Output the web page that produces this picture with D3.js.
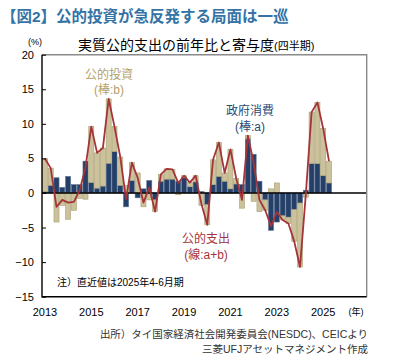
<!DOCTYPE html>
<html><head><meta charset="utf-8">
<script src="https://cdn.jsdelivr.net/npm/d3@7"></script>
<style>
html,body{margin:0;padding:0;background:#fff;}
svg{display:block;font-family:"Liberation Sans","Noto Sans CJK JP",sans-serif;}
</style></head>
<body>
<svg id="c" width="400" height="355"></svg>
<script>
const quarters = ["2013Q1","2013Q2","2013Q3","2013Q4","2014Q1","2014Q2","2014Q3","2014Q4",
"2015Q1","2015Q2","2015Q3","2015Q4","2016Q1","2016Q2","2016Q3","2016Q4",
"2017Q1","2017Q2","2017Q3","2017Q4","2018Q1","2018Q2","2018Q3","2018Q4",
"2019Q1","2019Q2","2019Q3","2019Q4","2020Q1","2020Q2","2020Q3","2020Q4",
"2021Q1","2021Q2","2021Q3","2021Q4","2022Q1","2022Q2","2022Q3","2022Q4",
"2023Q1","2023Q2","2023Q3","2023Q4","2024Q1","2024Q2","2024Q3","2024Q4",
"2025Q1","2025Q2"];
const futureQuarters = ["2025Q3","2025Q4","2026Q1","2026Q2","2026Q3","2026Q4"];
// 政府消費 (棒:a)
const govConsumption = [0.2,1.1,2.2,0.8,2.4,1.2,1.2,4.6,1.5,0.7,
1.0,4.3,6.0,1.1,-2.0,1.8,-0.7,0.6,1.8,-1.0,
1.7,2.0,2.0,1.7,2.2,0.9,1.6,0.2,-1.7,1.2,
2.4,1.7,0.6,1.3,1.2,7.8,5.6,1.7,-1.0,-5.4,
-4.2,-3.3,-3.5,-2.4,-1.45,0.4,4.25,4.25,2.5,1.45];
// 公的投資 (棒:b)
const publicInvestment = [4.8,2.5,-4.2,-1.8,-3.8,-2.5,-0.8,-0.9,8.1,5.1,
5.5,9.3,3.6,4.1,1.1,2.6,2.9,-2.0,-1.0,-1.7,
1.0,1.5,1.4,-0.25,0.3,0.6,0.9,-1.8,-2.9,3.6,
4.9,1.2,5.7,0.8,-2.2,0.5,-1.2,-2.7,-1.5,0.6,
1.45,-0.6,-0.9,-4.6,-9.25,-0.6,7.45,8.85,6.8,3.15];
// 公的支出 (線:a+b)
const publicExpenditure = [5.0,3.6,-2.0,-1.0,-1.4,-1.3,0.4,3.7,9.6,5.8,
6.5,13.6,9.6,5.2,-0.9,4.4,2.2,-1.4,0.8,-2.7,
2.7,3.5,3.4,1.45,2.5,1.5,2.5,-1.6,-4.6,4.8,
7.3,2.9,6.3,2.1,-1.0,8.3,4.4,-1.0,-2.5,-4.8,
-2.75,-3.9,-4.4,-7.0,-10.7,-0.2,11.7,13.1,9.3,4.6];
const yTicks = [20,15,10,5,0,-5,-10,-15];
const xTickYears = ["2013","2015","2017","2019","2021","2023","2025"];

const svg = d3.select("#c");
const L = 42, R = 366.7, T = 54.7, B = 296.7;
const x = d3.scaleBand().domain(quarters.concat(futureQuarters)).range([L, R]).paddingInner(0.13).paddingOuter(0.065);
const y = d3.scaleLinear().domain([-15, 20]).range([B, T]);

const rows = quarters.map((q, i) => ({q, a: govConsumption[i], b: publicInvestment[i]}));
const stack = d3.stack().keys(["a", "b"]).offset(d3.stackOffsetDiverging);
const series = stack(rows);
const fills = {a: "#243f68", b: "#cbc29c"};
const strokes = {a: "#5a6f8e", b: "#a99f72"};

svg.append("g").selectAll("g").data(series).join("g")
  .attr("fill", d => fills[d.key]).attr("stroke", d => strokes[d.key]).attr("stroke-width", 0.6)
  .selectAll("rect").data(d => d).join("rect")
  .attr("x", d => x(d.data.q))
  .attr("width", x.bandwidth())
  .attr("y", d => y(Math.max(d[0], d[1])))
  .attr("height", d => Math.abs(y(d[0]) - y(d[1])));

// zero line
svg.append("line").attr("x1", L).attr("x2", R).attr("y1", y(0)).attr("y2", y(0))
  .attr("stroke", "#000").attr("stroke-width", 1.5);

// line
const line = d3.line().x((d, i) => x(quarters[i]) + x.bandwidth() / 2).y(d => y(d));
svg.append("path").datum(publicExpenditure).attr("d", line)
  .attr("fill", "none").attr("stroke", "#a5343a").attr("stroke-width", 1.8).attr("stroke-linejoin", "round");

// frame
svg.append("path").attr("d", `M${L},${T}H${R}V${B}`).attr("fill", "none").attr("stroke", "#8a8a8a").attr("stroke-width", 1.4);
svg.append("path").attr("d", `M${L},${T}V${B}H${R}`).attr("fill", "none").attr("stroke", "#000").attr("stroke-width", 1.4);

// y axis
const yAxis = d3.axisLeft(y).tickValues(yTicks).tickSizeInner(-4).tickSizeOuter(0).tickPadding(8);
const ya = svg.append("g").attr("transform", `translate(${L},0)`).call(yAxis);
ya.select(".domain").remove();
ya.selectAll("line").attr("stroke", "#000");
ya.selectAll("text").attr("font-size", 11).attr("fill", "#000").attr("font-family", "Liberation Sans");

// x axis
const xAxis = d3.axisBottom(x).tickValues(xTickYears.map(v => v + "Q1")).tickFormat(d => d.slice(0, 4)).tickSize(0).tickPadding(12);
const xa = svg.append("g").attr("transform", `translate(0,${B})`).call(xAxis);
xa.select(".domain").remove();
xa.selectAll("text").attr("font-size", 11).attr("fill", "#000").attr("font-family", "Liberation Sans");

// texts
function txt(s, xx, yy, size, color, anchor, weight) {
  return svg.append("text").attr("x", xx).attr("y", yy).attr("font-size", size).attr("fill", color)
    .attr("text-anchor", anchor || "start").attr("font-weight", weight || "normal").text(s);
}
txt("【図2】公的投資が急反発する局面は一巡", 1, 22, 15.5, "#3473a6", "start", "bold");
const sub = svg.append("text").attr("x", 78).attr("y", 50).attr("fill", "#000");
sub.append("tspan").attr("font-size", 14).text("実質公的支出の前年比と寄与度");
sub.append("tspan").attr("font-size", 11).text("(四半期)");
txt("(%)", 35, 45, 9, "#000", "middle");
txt("(年)", 356, 315, 9, "#000", "middle");
txt("公的投資", 109, 79, 12, "#b3a16a", "middle");
txt("(棒:b)", 109, 94, 12, "#b3a16a", "middle");
txt("政府消費", 250, 115, 12, "#2a4a74", "middle");
txt("(棒:a)", 250, 131, 12, "#2a4a74", "middle");
txt("公的支出", 206, 243, 12, "#a5343a", "middle");
txt("(線:a+b)", 206, 259, 12, "#a5343a", "middle");
txt("注）直近値は2025年4-6月期", 57, 286, 10, "#000", "start");
txt("出所）タイ国家経済社会開発委員会(NESDC)、CEICより", 368, 338, 10.5, "#333", "end");
txt("三菱UFJアセットマネジメント作成", 368, 353, 10.5, "#333", "end");
</script>
</body></html>
